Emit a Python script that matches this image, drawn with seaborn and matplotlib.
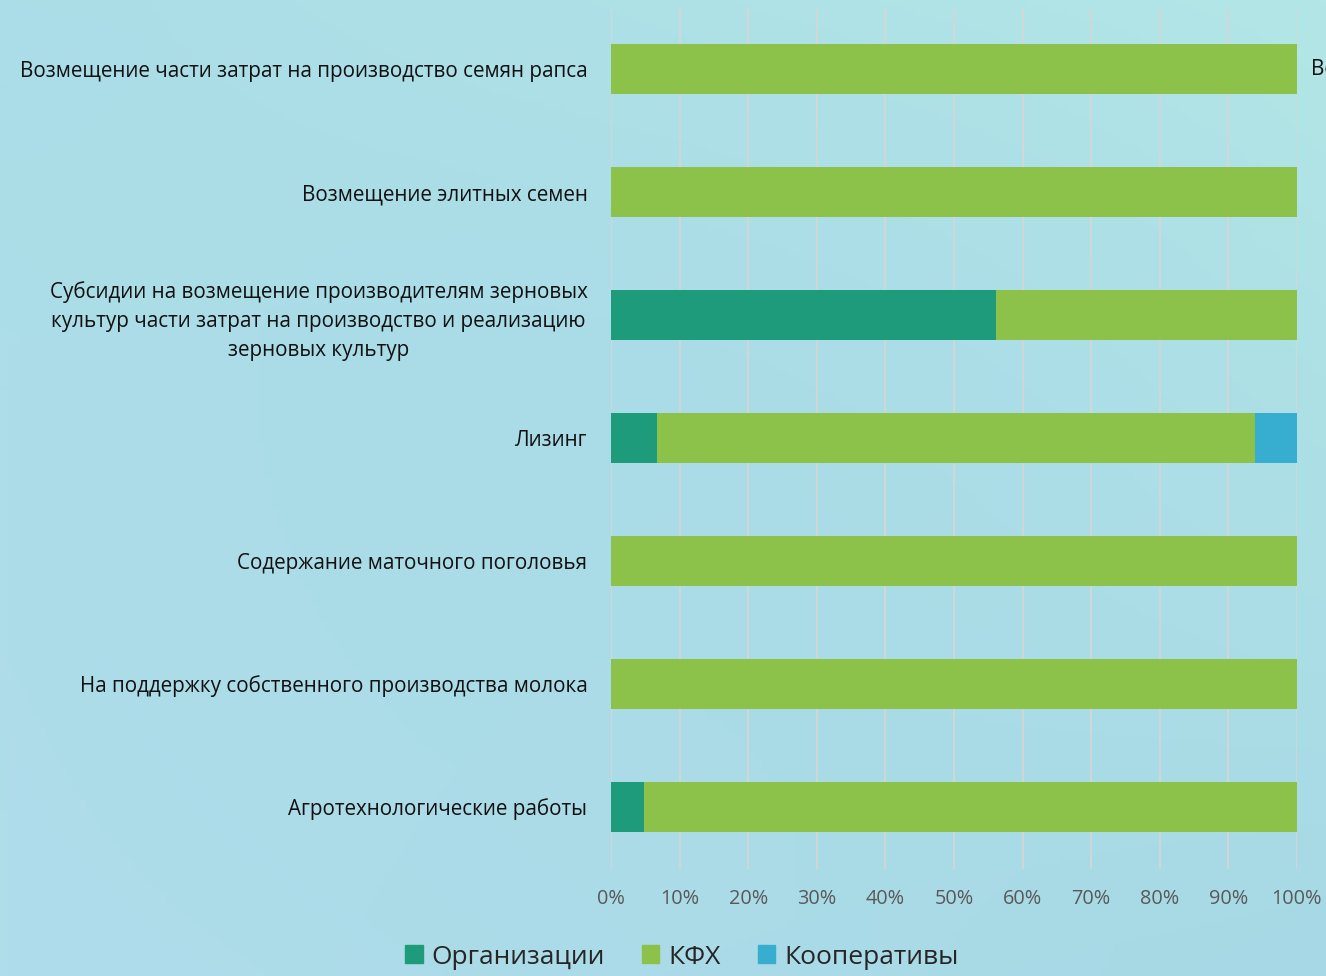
import numpy as np
import pandas as pd
import matplotlib
matplotlib.use("Agg")
import matplotlib.pyplot as plt
import matplotlib.colors as mcolors
import seaborn as sns

categories = [
    "Возмещение части затрат на производство семян рапса",
    "Возмещение элитных семен",
    "Субсидии на возмещение производителям зерновых\nкультур части затрат на производство и реализацию\nзерновых культур",
    "Лизинг",
    "Содержание маточного поголовья",
    "На поддержку собственного производства молока",
    "Агротехнологические работы",
]
org = [0, 0, 56.1, 6.7, 0, 0, 4.8]
kfx = [100, 100, 43.9, 87.2, 100, 100, 95.2]
koop = [0, 0, 0, 6.1, 0, 0, 0]
series_names = ["Организации", "КФХ", "Кооперативы"]
colors = ["#1e9b7a", "#8cc24a", "#37aecf"]
xticks = [0, 10, 20, 30, 40, 50, 60, 70, 80, 90, 100]
xticklabels = [f"{t}%" for t in xticks]

sns.set_theme(style="white")
plt.rcParams["font.family"] = ["Open Sans", "DejaVu Sans"]

W, H = 1326, 976
fig = plt.figure(figsize=(W / 100, H / 100), dpi=100)

# background gradient (bilinear blend of corner colours)
bg = fig.add_axes([0, 0, 1, 1], zorder=-10)
yy, xx = np.mgrid[0:1:200j, 0:1:200j]
tl = np.array(mcolors.to_rgb("#aadde7"))
tr = np.array(mcolors.to_rgb("#b3e6e6"))
bl = np.array(mcolors.to_rgb("#b0ddeb"))
br = np.array(mcolors.to_rgb("#a6d9e5"))
mid = np.array(mcolors.to_rgb("#a8dbe7"))
X = xx[..., None]
Y = yy[..., None]
img = (tl * (1 - X) * (1 - Y) + tr * X * (1 - Y) + bl * (1 - X) * Y + br * X * Y)
w_mid = (4 * X * (1 - X) * 4 * Y * (1 - Y))
img = img * (1 - 0.6 * w_mid) + mid * 0.6 * w_mid
bg.imshow(img, aspect="auto", extent=[0, 1, 0, 1])
bg.axis("off")

ax_left = 611 / W
ax_right = 1297 / W
ax_top = 1 - 7.5 / H
ax_bot = 1 - 868.5 / H
ax = fig.add_axes([ax_left, ax_bot, ax_right - ax_left, ax_top - ax_bot])
ax.patch.set_alpha(0)

df = pd.DataFrame({"cat": categories, "org": org, "kfx": kfx, "koop": koop})
df["c1"] = df["org"]
df["c2"] = df["org"] + df["kfx"]
df["c3"] = df["org"] + df["kfx"] + df["koop"]

for col, c in zip(["c3", "c2", "c1"], [colors[2], colors[1], colors[0]]):
    sns.barplot(data=df, x=col, y="cat", color=c, width=0.4, ax=ax,
                saturation=1, linewidth=0, orient="h", zorder=3)

ax.set_xlim(0, 100)
ax.set_ylim(6.5, -0.5)
ax.set_xticks(xticks)
ax.set_xticklabels(xticklabels)
ax.set_xlabel("")
ax.set_ylabel("")
for sp in ax.spines.values():
    sp.set_visible(False)
ax.grid(axis="x", color="#d6d6d6", linewidth=1.2, zorder=0)
ax.grid(axis="y", visible=False)
ax.tick_params(axis="x", length=0, pad=15, labelsize=14.3, labelcolor="#595959")
ax.tick_params(axis="y", length=0, pad=17, labelsize=14.85, labelcolor="#111111")
for lbl in ax.get_yticklabels():
    lbl.set_multialignment("center")
    lbl.set_linespacing(1.5)

# clipped neighbouring text at the right edge
fig.text(1311 / W, 1 - 69 / H, "Возмещение", ha="left", va="center",
         fontsize=14.85, color="#111111")

handles = [plt.Rectangle((0, 0), 1, 1, color=c) for c in colors]
fig.legend(handles, series_names, loc="center", bbox_to_anchor=(682 / W, 1 - 957 / H),
           ncol=3, frameon=False, fontsize=19, handlelength=0.65, handleheight=0.65,
           handletextpad=0.35, columnspacing=1.4, borderpad=0)

fig.savefig("out.png", dpi=100)
